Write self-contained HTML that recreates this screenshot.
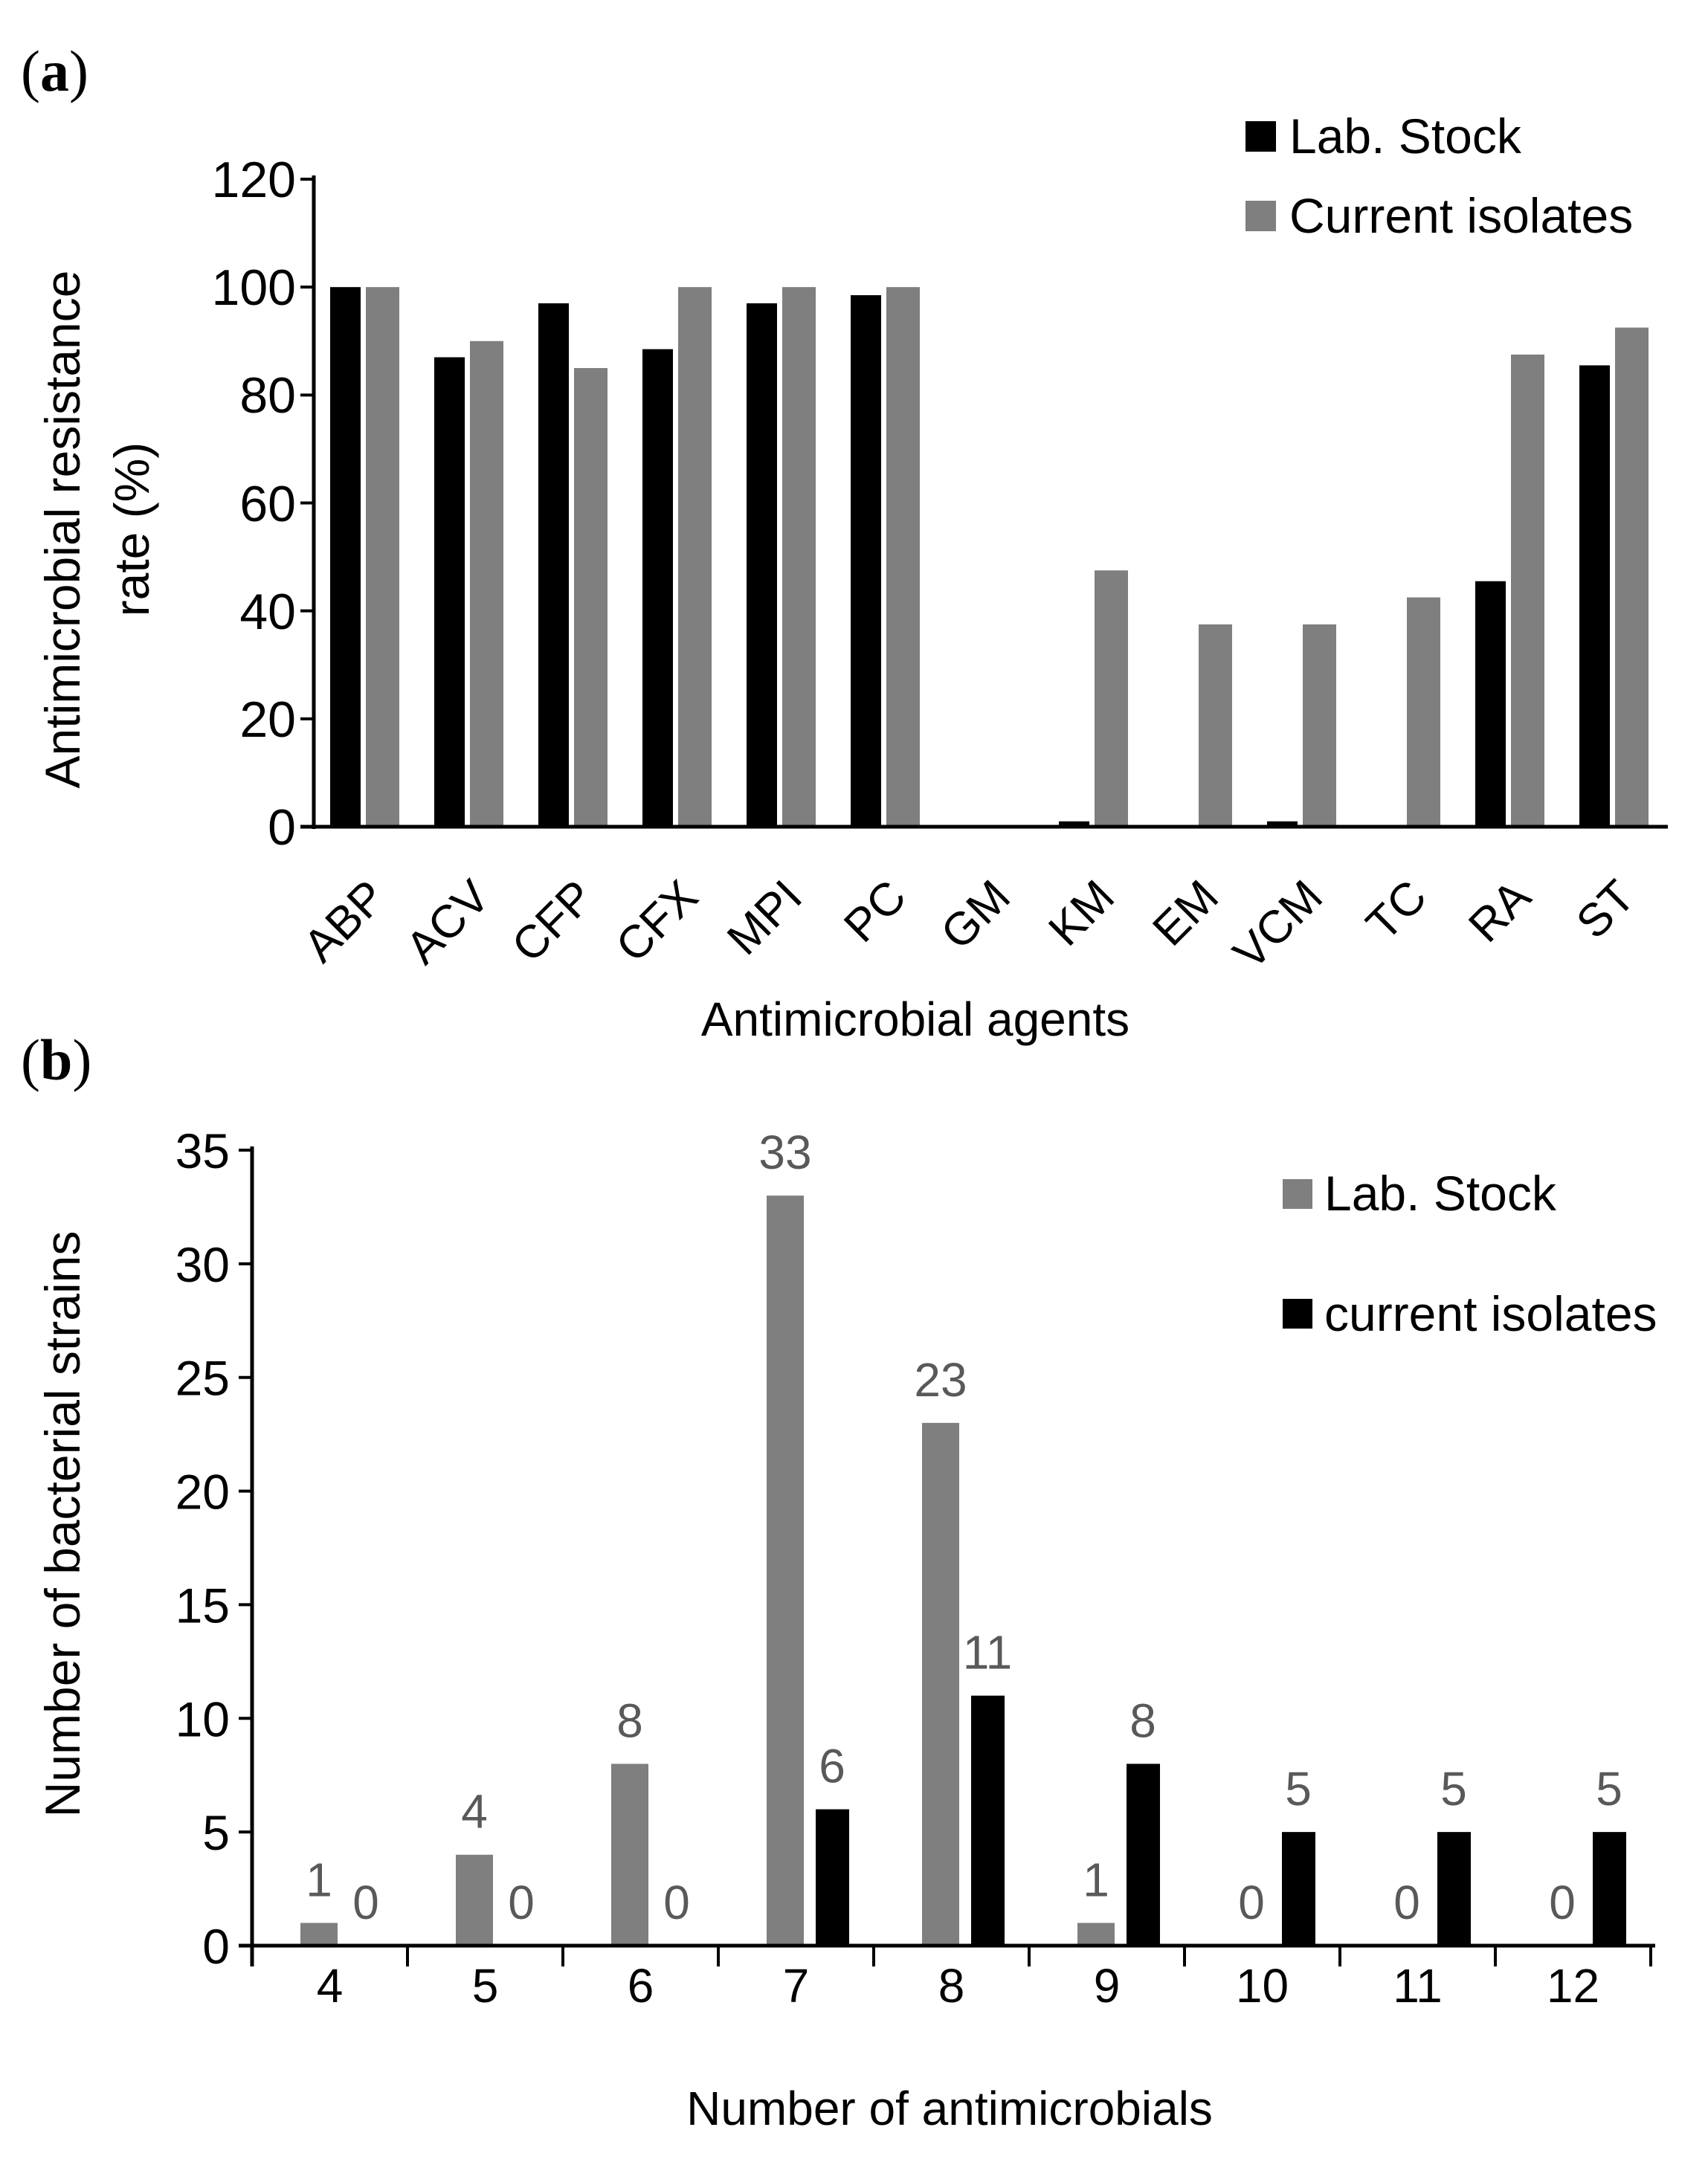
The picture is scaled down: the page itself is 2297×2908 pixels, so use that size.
<!DOCTYPE html>
<html><head><style>body{margin:0;background:#fff}svg{display:block}</style></head>
<body>
<svg width="2297" height="2908" viewBox="0 0 2297 2908" xmlns="http://www.w3.org/2000/svg" font-family="Liberation Sans, sans-serif">
<rect width="2297" height="2908" fill="#fff"/>
<text x="28" y="122" font-family="Liberation Serif, serif" font-size="78">(<tspan font-weight="bold">a</tspan>)</text>
<g font-size="68" fill="#000" text-anchor="end">
<text x="398" y="265">120</text><text x="398" y="410">100</text><text x="398" y="555">80</text>
<text x="398" y="701">60</text><text x="398" y="846">40</text><text x="398" y="991">20</text><text x="398" y="1136">0</text>
</g>
<g id="bars-a"></g>
<script>
(function(){
var ns="http://www.w3.org/2000/svg";
function el(t,a,p){var e=document.createElementNS(ns,t);for(var k in a)e.setAttribute(k,a[k]);p.appendChild(e);return e;}
var svg=document.currentScript.parentNode;
var g=svg.querySelector('#bars-a');
var lab=[100,87,97,88.5,97,98.5,0,1,0,1,0,45.5,85.5];
var cur=[100,90,85,100,100,100,0,47.5,37.5,37.5,42.5,87.5,92.5];
var names=["ABP","ACV","CFP","CFX","MPI","PC","GM","KM","EM","VCM","TC","RA","ST"];
var x0=422,y0=1112,pu=(1112-241)/120,cw=140;
for(var i=0;i<13;i++){
 var s=x0+i*cw;
 if(lab[i]>0){var h=lab[i]*pu;el('rect',{x:s+22,y:y0-h,width:41,height:h,fill:'#000'},g);}
 if(cur[i]>0){var h2=cur[i]*pu;el('rect',{x:s+70,y:y0-h2,width:45,height:h2,fill:'#7f7f7f'},g);}
 var cx=s+cw/2+30,cy=1210;
 var t=el('text',{x:cx,y:cy,'font-size':62,'text-anchor':'end',transform:'rotate(-45 '+cx+' '+cy+')'},g);t.textContent=names[i];
}
el('line',{x1:x0,y1:236,x2:x0,y2:y0+3,stroke:'#000','stroke-width':5},g);
el('line',{x1:x0-18,y1:y0,x2:2243,y2:y0,stroke:'#000','stroke-width':5},g);
for(var v=0;v<=120;v+=20){var y=y0-v*pu;el('line',{x1:x0-18,y1:y,x2:x0,y2:y,stroke:'#000','stroke-width':4},g);}
var gb=el('g',{},svg);
var L=[1,4,8,33,23,1,0,0,0],C=[0,0,0,6,11,8,5,5,5];
var bx0=339,by0=2617,bpu=(2617-1547)/35,bw=209;
for(var j=0;j<9;j++){
 var s2=bx0+j*bw;
 var gx=s2+65,kx=s2+131;
 if(L[j]>0){var h3=L[j]*bpu;el('rect',{x:gx,y:by0-h3,width:50,height:h3,fill:'#7f7f7f'},gb);}
 if(C[j]>0){var h4=C[j]*bpu;el('rect',{x:kx,y:by0-h4,width:45,height:h4,fill:'#000'},gb);}
 var t1=el('text',{x:gx+25,y:by0-L[j]*bpu-36,'font-size':64,'text-anchor':'middle',fill:'#595959'},gb);t1.textContent=L[j];
 var t2=el('text',{x:kx+22,y:by0-C[j]*bpu-36,'font-size':64,'text-anchor':'middle',fill:'#595959'},gb);t2.textContent=C[j];
 var t3=el('text',{x:s2+bw/2,y:2693,'font-size':64,'text-anchor':'middle'},gb);t3.textContent=j+4;
 el('line',{x1:s2+bw,y1:by0,x2:s2+bw,y2:by0+28,stroke:'#000','stroke-width':4},gb);
}
el('line',{x1:bx0,y1:1542,x2:bx0,y2:by0+28,stroke:'#000','stroke-width':5},gb);
el('line',{x1:bx0-18,y1:by0,x2:bx0+9*bw+6,y2:by0,stroke:'#000','stroke-width':5},gb);
for(var v2=0;v2<=35;v2+=5){var yy=by0-v2*bpu;el('line',{x1:bx0-18,y1:yy,x2:bx0,y2:yy,stroke:'#000','stroke-width':4},gb);
 var tt=el('text',{x:bx0-30,y:yy+24,'font-size':66,'text-anchor':'end'},gb);tt.textContent=v2;}
})();
</script>
<text transform="translate(107,712) rotate(-90)" font-size="66" text-anchor="middle">Antimicrobial resistance</text>
<text transform="translate(200,712) rotate(-90)" font-size="66" text-anchor="middle">rate (%)</text>
<text x="1231" y="1393" font-size="64" text-anchor="middle">Antimicrobial agents</text>
<rect x="1675" y="163" width="41" height="41" fill="#000"/>
<text x="1734" y="206" font-size="66">Lab. Stock</text>
<rect x="1675" y="270" width="41" height="41" fill="#7f7f7f"/>
<text x="1734" y="313" font-size="66">Current isolates</text>
<text x="28" y="1452" font-family="Liberation Serif, serif" font-size="78">(<tspan font-weight="bold">b</tspan>)</text>
<text transform="translate(107,2050) rotate(-90)" font-size="66" text-anchor="middle">Number of bacterial strains</text>
<text x="1277" y="2858" font-size="64" text-anchor="middle">Number of antimicrobials</text>
<rect x="1725" y="1586" width="40" height="40" fill="#7f7f7f"/>
<text x="1781" y="1628" font-size="66">Lab. Stock</text>
<rect x="1725" y="1747" width="40" height="40" fill="#000"/>
<text x="1781" y="1790" font-size="66">current isolates</text>
</svg>
</body></html>
